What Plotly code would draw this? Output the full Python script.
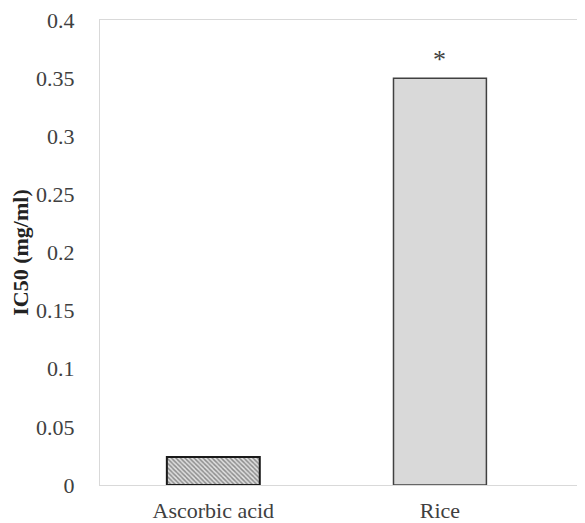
import plotly.graph_objects as go

categories = ["Ascorbic acid", "Rice"]
ic50_values = [0.024, 0.35]
significance = ["", "*"]
y_ticks = [0, 0.05, 0.1, 0.15, 0.2, 0.25, 0.3, 0.35, 0.4]
y_tick_labels = ["0", "0.05", "0.1", "0.15", "0.2", "0.25", "0.3", "0.35", "0.4"]

SERIF = "Liberation Serif, Times New Roman, serif"

fig = go.Figure()
fig.add_trace(go.Bar(
    x=[categories[0]], y=[ic50_values[0]], width=0.41,
    marker=dict(color="#e0e0e0", line=dict(color="#1a1a1a", width=2),
                pattern=dict(shape="\\", fgcolor="#333333", bgcolor="#e0e0e0", size=3.2, solidity=0.45)),
    showlegend=False,
))
fig.add_trace(go.Bar(
    x=[categories[1]], y=[ic50_values[1]], width=0.41,
    marker=dict(color="#d9d9d9", line=dict(color="#404040", width=1.5)),
    showlegend=False,
))
for c, v, s in zip(categories, ic50_values, significance):
    if s:
        fig.add_annotation(x=c, y=v, text=s, showarrow=False, yanchor="bottom", yshift=2,
                           font=dict(family=SERIF, size=26, color="#404040"))

font = dict(family=SERIF, size=22, color="#404040")
fig.update_layout(
    width=577, height=515,
    margin=dict(l=92, r=0, t=12, b=38),
    plot_bgcolor="white", paper_bgcolor="white",
    bargap=0.5,
    xaxis=dict(type="category", categoryorder="array", categoryarray=categories, automargin=False,
               range=[-0.5, 1.64], showline=True, linecolor="#d9d9d9", linewidth=1, mirror=True,
               showgrid=False, ticks="", tickfont=font, ticklabelstandoff=6, ticklabeloverflow="allow"),
    yaxis=dict(range=[0, 0.4], tickvals=y_ticks, ticktext=y_tick_labels, automargin=False,
               showline=True, linecolor="#d9d9d9", linewidth=1, showgrid=False, zeroline=False,
               ticks="", tickfont=font, ticklabelstandoff=20, ticklabeloverflow="allow",
               title=dict(text="<b>IC50 (mg/ml)</b>", font=dict(family=SERIF, size=22, color="#222222"), standoff=4)),
)
fig.write_html("out.html")
